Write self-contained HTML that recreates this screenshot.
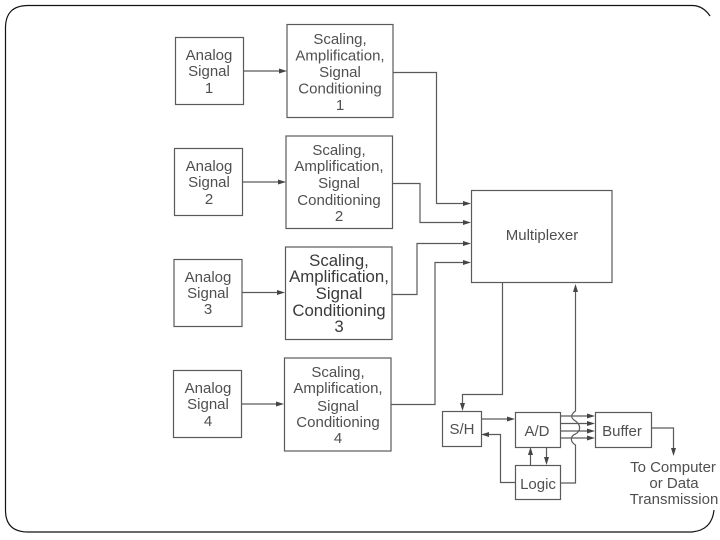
<!DOCTYPE html>
<html>
<head>
<meta charset="utf-8">
<style>
html,body{margin:0;padding:0;background:#fff;width:720px;height:540px;overflow:hidden}
svg{display:block}
text{font-family:"Liberation Sans",sans-serif;font-size:15px;fill:#505050;text-anchor:middle}
.b{fill:none;stroke:#5a5a5a;stroke-width:1.2}
.l{fill:none;stroke:#5a5a5a;stroke-width:1.2}
.a{fill:#444;stroke:none}
.big{font-size:16.8px;fill:#3a3a3a}
</style>
</head>
<body>
<svg width="720" height="540" viewBox="0 0 720 540" xmlns="http://www.w3.org/2000/svg">
<defs><filter id="s" filterUnits="userSpaceOnUse" x="0" y="0" width="720" height="540"><feGaussianBlur stdDeviation="0.35"/></filter></defs>

<!-- Frame, open on the right side -->
<path d="M710 16Q703 5.500 692 5.500H28Q5.500 5.500 5.500 28V510Q5.500 532 28 532H692Q712 530 714 510" fill="none" stroke="#111" stroke-width="1.200"/>

<g filter="url(#s)">
<!-- Analog boxes -->
<rect class="b" x="175.500" y="37.500" width="68" height="67"/>
<rect class="b" x="174.500" y="148.500" width="68" height="67"/>
<rect class="b" x="174" y="259.500" width="68" height="67"/>
<rect class="b" x="173.500" y="370.500" width="68" height="67"/>

<!-- Scaling boxes -->
<rect class="b" x="287" y="24.500" width="106" height="93"/>
<rect class="b" x="286" y="136" width="106.500" height="92.500"/>
<rect class="b" x="285.500" y="247" width="106.500" height="92.500"/>
<rect class="b" x="284.500" y="358" width="106.500" height="93"/>

<!-- Other boxes -->
<rect class="b" x="471.500" y="190.500" width="140.500" height="92"/>
<rect class="b" x="442.500" y="411.500" width="39" height="35"/>
<rect class="b" x="515.500" y="412.500" width="45" height="35"/>
<rect class="b" x="595.500" y="412.500" width="56" height="35"/>
<rect class="b" x="515.500" y="465.500" width="45" height="34"/>

<!-- Analog to scaling -->
<path class="l" d="M243 71H281"/><path class="a" d="M287 71l-8-2.500v5z"/>
<path class="l" d="M243 182H280"/><path class="a" d="M286 182l-8-2.500v5z"/>
<path class="l" d="M242 292.500H279"/><path class="a" d="M285 292.500l-8-2.500v5z"/>
<path class="l" d="M241 404H278"/><path class="a" d="M284 404l-8-2.500v5z"/>

<!-- Scaling to mux -->
<path class="l" d="M393 72.500H436.500V203.500H465"/><path class="a" d="M471 203.500l-8-2.500v5z"/>
<path class="l" d="M393 183.500H420V222.500H465"/><path class="a" d="M471 222.500l-8-2.500v5z"/>
<path class="l" d="M392 294.500H417V243.500H465"/><path class="a" d="M471 243.500l-8-2.500v5z"/>
<path class="l" d="M391 404.500H435V262.500H465"/><path class="a" d="M471 262.500l-8-2.500v5z"/>

<!-- Mux to S/H -->
<path class="l" d="M502.500 282V394.500H462.500V405"/><path class="a" d="M462.500 411l-2.500-8h5z"/>

<!-- S/H, A/D, Logic -->
<path class="l" d="M481 419H509"/><path class="a" d="M515 419l-8-2.500v5z"/>
<path class="l" d="M515 482.500H500.500V434.500H488"/><path class="a" d="M481 434.500l8-2.500v5z"/>
<path class="l" d="M530.500 465V453"/><path class="a" d="M530.500 447l-2.500 8h5z"/>
<path class="l" d="M546.500 447V459"/><path class="a" d="M546.500 465l-2.500-8h5z"/>

<!-- A/D to Buffer -->
<path class="l" d="M560 416H589"/><path class="a" d="M595 416l-8-2.500v5z"/>
<path class="l" d="M560 423.500H589"/><path class="a" d="M595 423.500l-8-2.500v5z"/>
<path class="l" d="M560 431H589"/><path class="a" d="M595 431l-8-2.500v5z"/>
<path class="l" d="M560 438H589"/><path class="a" d="M595 438l-8-2.500v5z"/>

<!-- Logic to mux with S-shaped crossover -->
<path class="l" d="M560 483H575.500V445C570 442 570 436 575.500 434C581 431 581 425 575.500 421C570 418 571 414 575.500 411V290"/>
<path class="a" d="M575.500 284l-2.500 8h5z"/>

<!-- Buffer out -->
<path class="l" d="M651 428H673.500V449"/><path class="a" d="M673.500 456l-2.500-8h5z"/>

<!-- Analog labels -->
<text x="209" y="60">Analog</text><text x="209" y="76">Signal</text><text x="209" y="93">1</text>
<text x="209" y="171">Analog</text><text x="209" y="187">Signal</text><text x="209" y="204">2</text>
<text x="208" y="282">Analog</text><text x="208" y="298">Signal</text><text x="208" y="314">3</text>
<text x="208" y="393">Analog</text><text x="208" y="409">Signal</text><text x="208" y="426">4</text>

<!-- Scaling labels -->
<text x="340" y="44">Scaling,</text><text x="340" y="60.500">Amplification,</text><text x="340" y="77">Signal</text><text x="340" y="93.500">Conditioning</text><text x="340" y="110">1</text>
<text x="339" y="155">Scaling,</text><text x="339" y="171">Amplification,</text><text x="339" y="188">Signal</text><text x="339" y="205">Conditioning</text><text x="339" y="221">2</text>
<text class="big" x="339" y="266">Scaling,</text><text class="big" x="339" y="282">Amplification,</text><text class="big" x="339" y="299">Signal</text><text class="big" x="339" y="316">Conditioning</text><text class="big" x="339" y="332">3</text>
<text x="338" y="377">Scaling,</text><text x="338" y="393">Amplification,</text><text x="338" y="411">Signal</text><text x="338" y="427">Conditioning</text><text x="338" y="443">4</text>

<!-- Other labels -->
<text x="542" y="240">Multiplexer</text>
<text x="462" y="434">S/H</text>
<text x="537" y="436">A/D</text>
<text x="622" y="436">Buffer</text>
<text x="538" y="489">Logic</text>
<text x="673" y="472">To Computer</text>
<text x="674" y="488">or Data</text>
<text x="674" y="504">Transmission</text>
</g>
</svg>
</body>
</html>
